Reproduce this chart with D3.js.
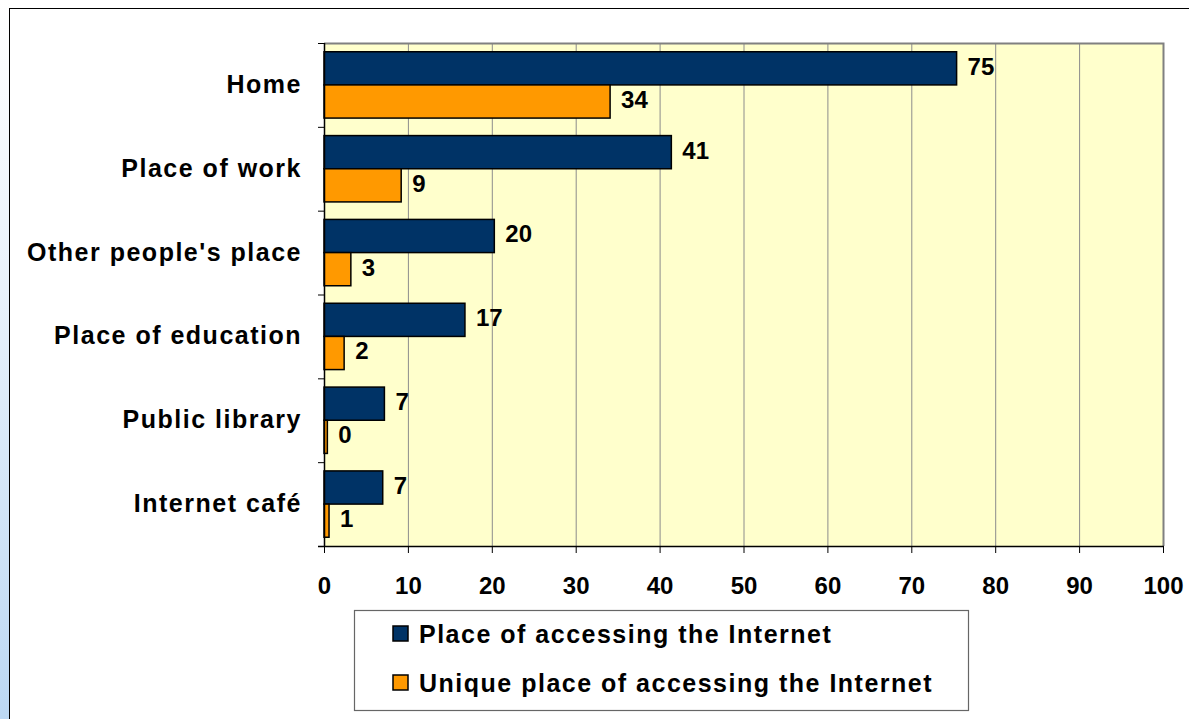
<!DOCTYPE html>
<html>
<head>
<meta charset="utf-8">
<script src="https://cdn.jsdelivr.net/npm/d3@7"></script>
<style>
  body { margin: 0; background: #ffffff; }
  svg { display: block; font-family: "Liberation Sans", Arial, sans-serif; font-weight: bold; }
</style>
</head>
<body>
<svg id="chart" width="1189" height="719"></svg>
<script>
const categories = ["Home", "Place of work", "Other people's place", "Place of education", "Public library", "Internet café"];
const seriesNames = ["Place of accessing the Internet", "Unique place of accessing the Internet"];
const placeAccess = [75.4, 41.4, 20.3, 16.8, 7.2, 7.0];
const uniquePlace = [34.1, 9.2, 3.2, 2.4, 0.4, 0.6];
const xTicks = [0, 10, 20, 30, 40, 50, 60, 70, 80, 90, 100];
const colors = ["#003366", "#FF9900"];

const svg = d3.select("#chart");

// left blue glow
const defs = svg.append("defs");
const grad = defs.append("linearGradient").attr("id", "glow").attr("x1", 0).attr("x2", 0).attr("y1", 0).attr("y2", 1);
grad.append("stop").attr("offset", "0%").attr("stop-color", "#ffffff");
grad.append("stop").attr("offset", "40%").attr("stop-color", "#e9f2fb");
grad.append("stop").attr("offset", "100%").attr("stop-color", "#bcd8f3");
svg.append("rect").attr("x", 0).attr("y", 0).attr("width", 9).attr("height", 719).attr("fill", "url(#glow)");

// outer border
svg.append("rect").attr("x", 9.5).attr("y", 8.5).attr("width", 1300).attr("height", 900)
  .attr("fill", "#ffffff").attr("stroke", "#000").attr("stroke-width", 1);

const pLeft = 324, pRight = 1163, pTop = 43, pBottom = 546;

const x = d3.scaleLinear().domain([0, 100]).range([pLeft, pRight]);
const y = d3.scaleBand().domain(categories).range([pTop, pBottom]).padding(0);
const ySub = d3.scaleBand().domain(seriesNames).range([0, y.bandwidth()]).paddingInner(0).paddingOuter(0.264);

// plot area
svg.append("rect").attr("x", pLeft).attr("y", pTop).attr("width", pRight - pLeft).attr("height", pBottom - pTop)
  .attr("fill", "#FFFFCC");

// gridlines
svg.append("g").selectAll("line").data(xTicks.slice(1)).join("line")
  .attr("x1", d => x(d) + 0.5).attr("x2", d => x(d) + 0.5)
  .attr("y1", pTop).attr("y2", pBottom)
  .attr("stroke", "#8c8c8c").attr("stroke-width", 1);

// plot frame top & right (gray)
svg.append("path")
  .attr("d", `M${pLeft},${pTop + 0.5}H${pRight + 0.5}V${pBottom}`)
  .attr("fill", "none").attr("stroke", "#808080").attr("stroke-width", 2);

// bars
const data = categories.map((c, i) => ({ cat: c, vals: [placeAccess[i], uniquePlace[i]] }));
const groups = svg.append("g").selectAll("g").data(data).join("g")
  .attr("transform", d => `translate(0,${y(d.cat)})`);

groups.selectAll("rect").data(d => d.vals.map((v, j) => ({ v, s: seriesNames[j], j }))).join("rect")
  .attr("x", x(0))
  .attr("y", d => ySub(d.s))
  .attr("width", d => x(d.v) - x(0))
  .attr("height", ySub.bandwidth())
  .attr("fill", d => colors[d.j])
  .attr("stroke", "#000").attr("stroke-width", 1.5);

groups.selectAll("text").data(d => d.vals.map((v, j) => ({ v, s: seriesNames[j], j }))).join("text")
  .attr("x", d => x(d.v) + 11)
  .attr("y", d => ySub(d.s) + ySub.bandwidth() / 2 - 2)
  .attr("dominant-baseline", "central")
  .attr("font-size", 24)
  .attr("fill", "#000")
  .text(d => d3.format(".0f")(d.v));

// y axis
const yAxis = d3.axisLeft(y).tickSize(0).tickFormat(d => d);
const yAxisG = svg.append("g").attr("transform", `translate(${pLeft},0)`).call(yAxis);
yAxisG.select(".domain").remove();
yAxisG.selectAll("text")
  .attr("x", -22)
  .attr("dy", null)
  .attr("y", -1)
  .attr("dominant-baseline", "central")
  .attr("font-size", 25)
  .attr("letter-spacing", "1.5px")
  .attr("font-family", "'Liberation Sans', Arial, sans-serif")
  .attr("font-weight", "bold")
  .attr("fill", "#000");
// category boundary ticks
const bounds = categories.map(c => y(c)).concat([pBottom]);
svg.append("g").selectAll("line").data(bounds).join("line")
  .attr("x1", pLeft - 6).attr("x2", pLeft)
  .attr("y1", d => d + 0.5).attr("y2", d => d + 0.5)
  .attr("stroke", "#000").attr("stroke-width", 1);
svg.append("line").attr("x1", pLeft + 0.5).attr("x2", pLeft + 0.5).attr("y1", pTop).attr("y2", pBottom)
  .attr("stroke", "#000").attr("stroke-width", 1.5);

// x axis
const xAxis = d3.axisBottom(x).tickValues(xTicks).tickSize(7).tickPadding(24);
const xAxisG = svg.append("g").attr("transform", `translate(0,${pBottom})`).call(xAxis);
xAxisG.select(".domain").attr("d", `M${pLeft - 6},0.5H${pRight + 1}`).attr("stroke", "#000").attr("stroke-width", 1.5);
xAxisG.selectAll(".tick line").attr("stroke", "#000").attr("stroke-width", 1);
xAxisG.selectAll(".tick text")
  .attr("font-size", 24)
  .attr("font-family", "'Liberation Sans', Arial, sans-serif")
  .attr("font-weight", "bold")
  .attr("fill", "#000");

// legend
const lg = svg.append("g");
lg.append("rect").attr("x", 354.5).attr("y", 610.5).attr("width", 614).attr("height", 100)
  .attr("fill", "#fff").attr("stroke", "#666").attr("stroke-width", 1.2);
const rowsY = [634, 683];
seriesNames.forEach((s, i) => {
  lg.append("rect").attr("x", 393).attr("y", rowsY[i] - 8).attr("width", 15).attr("height", 15)
    .attr("fill", colors[i]).attr("stroke", "#000").attr("stroke-width", 1.5);
  lg.append("text").attr("x", 419).attr("y", rowsY[i]).attr("dominant-baseline", "central")
    .attr("font-size", 25).attr("letter-spacing", "1.5px").attr("fill", "#000").text(s);
});
</script>
</body>
</html>
